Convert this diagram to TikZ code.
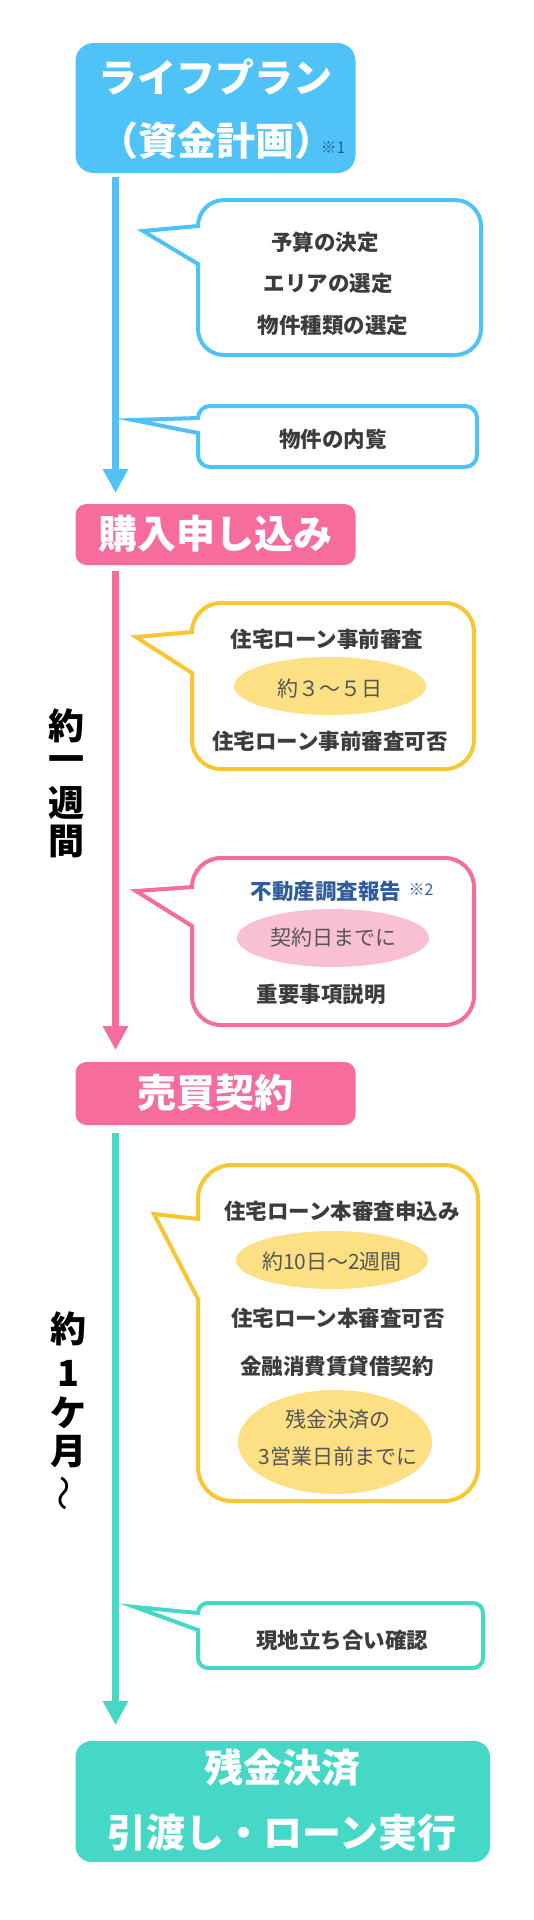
\documentclass[tikz,border=0pt]{standalone}
\usepackage{fontspec}
\setmainfont{Noto Sans CJK JP}
\usetikzlibrary{arrows.meta,calc}
\definecolor{cblue}{HTML}{4FC3F7}
\definecolor{cpink}{HTML}{F56C9D}
\definecolor{cteal}{HTML}{46D8C6}
\definecolor{cyellow}{HTML}{F8C630}
\definecolor{eyellow}{HTML}{FDE084}
\definecolor{epink}{HTML}{F9BFD5}
\definecolor{ctext}{HTML}{3C3C3C}
\definecolor{etext}{HTML}{555555}
\definecolor{navy}{HTML}{2E5C9C}
\colorlet{bcol}{cblue}
% #1 L, #2 R, #3 top, #4 bottom, #5 radius, #6 tip x, #7 tip y, #8 upper join y, #9 lower join y
\newcommand\bubble[9]{\draw[bubble] (#6,#7) -- (#1,#8) -- (#1,{#3+#5})
  arc[start angle=180,end angle=270,radius=#5] -- ({#2-#5},#3)
  arc[start angle=270,end angle=360,radius=#5] -- (#2,{#4-#5})
  arc[start angle=0,end angle=90,radius=#5] -- ({#1+#5},#4)
  arc[start angle=90,end angle=180,radius=#5] -- (#1,#9) -- cycle;}
\begin{document}
\begin{tikzpicture}[x=1pt,y=-1pt,
  mainbox/.style={inner sep=0, outer sep=0, minimum width=280pt},
  boxtxt/.style={text=white, font=\bfseries\fontsize{39}{39}\selectfont, inner sep=0},
  btxt/.style={text=ctext, font=\bfseries\fontsize{21.5}{21.5}\selectfont, inner sep=0},
  etxt/.style={text=etext, font=\fontsize{21}{21}\selectfont, inner sep=0},
  vtxt/.style={text=black, font=\bfseries\fontsize{36}{36}\selectfont, inner sep=0},
  notetxt/.style={text=navy, font=\fontsize{16}{16}\selectfont, inner sep=0},
  bubble/.style={draw=bcol, line width=4pt, fill=white, line join=miter},
  flow/.style={line width=7.5pt, -{Triangle[width=24pt,length=24pt]}}]
\useasboundingbox[fill=white] (0,0) rectangle (533,1920);

% main boxes
\node[mainbox, fill=cblue, rounded corners=18pt, minimum height=130pt] (plan) at (215.5,108) {};
\node[mainbox, fill=cpink, rounded corners=11pt, minimum height=61pt] (apply) at (215.5,534.5) {};
\node[mainbox, fill=cpink, rounded corners=11pt, minimum height=63pt] (contract) at (215.5,1093.5) {};
\node[mainbox, fill=cteal, rounded corners=16pt, minimum width=414.5pt, minimum height=121pt] (settle) at (282.75,1801.5) {};

\node[boxtxt] (planA) at (215,77) {ライフプラン};
\node[boxtxt] (planB) at (216,141) {（資金計画）};
\node[notetxt] (n1) at (333,148) {※1};
\node[boxtxt] (applyT) at (215,534) {購入申し込み};
\node[boxtxt] (contractT) at (215,1093) {売買契約};
\node[boxtxt] (settleA) at (282,1768) {残金決済};
\node[boxtxt] (settleB) at (282,1833) {引渡し・ローン実行};

% flow arrows
\draw[flow, cblue] ($(plan.south west)+(40,4)$) -- ($(apply.north west)+(40,-11)$);
\draw[flow, cpink] ($(apply.south west)+(40,6)$) -- ($(contract.north west)+(40,-12)$);
\draw[flow, cteal] ($(contract.south west)+(40,8)$) -- ($(settle.north west)+(40,-16)$);

% bubbles
\colorlet{bcol}{cblue}
\bubble{198}{481}{200}{355}{26}{143}{231}{226}{264}
\bubble{198}{477}{406}{467}{12}{133}{420}{418}{433}
\colorlet{bcol}{cyellow}
\bubble{192}{474}{603}{769}{29}{136}{637}{632}{673}
\colorlet{bcol}{cpink}
\bubble{192}{474}{858}{1025}{29}{136}{891}{887}{926}
\colorlet{bcol}{cyellow}
\bubble{198}{478}{1165}{1501}{34}{154}{1214}{1219}{1299}
\colorlet{bcol}{cteal}
\bubble{198}{483}{1603}{1668}{10}{135}{1607}{1613}{1630}

% ellipses
\fill[eyellow] (330,686) ellipse[x radius=96, y radius=29];
\fill[epink] (333,938) ellipse[x radius=96, y radius=29];
\fill[eyellow] (332,1260) ellipse[x radius=96, y radius=29];
\fill[eyellow] (335,1442) ellipse[x radius=97, y radius=52];

% bubble texts
\node[btxt] (b1a) at (325,242) {予算の決定};
\node[btxt] (b1b) at (328,283) {エリアの選定};
\node[btxt] (b1c) at (333,325) {物件種類の選定};
\node[btxt] (b2) at (333,439) {物件の内覧};
\node[btxt] (b3a) at (327,639) {住宅ローン事前審査};
\node[etxt] (b3b) at (330,689) {約３～５日};
\node[btxt] (b3c) at (330,741) {住宅ローン事前審査可否};
\node[btxt, text=navy] (b4a) at (326,891) {不動産調査報告};
\node[notetxt] (n2) at (421,890) {※2};
\node[etxt] (b4b) at (333,938) {契約日までに};
\node[btxt] (b4c) at (321,994) {重要事項説明};
\node[btxt] (b5a) at (342,1211) {住宅ローン本審査申込み};
\node[etxt] (b5b) at (332,1262) {約10日～2週間};
\node[btxt] (b5c) at (338,1318) {住宅ローン本審査可否};
\node[btxt] (b5d) at (337,1366) {金融消費賃貸借契約};
\node[etxt] (b5e) at (338,1419) {残金決済の};
\node[etxt] (b5f) at (338,1456) {3営業日前までに};
\node[btxt] (b6) at (342,1640) {現地立ち合い確認};

% vertical period labels
\node[vtxt] (v1) at (66,726) {約};
\node[vtxt] (v2) at (66,764) {一};
\node[vtxt] (v3) at (66,803) {週};
\node[vtxt] (v4) at (66,841) {間};
\node[vtxt] (w1) at (68,1329) {約};
\node[vtxt] (w2) at (68,1373) {1};
\node[vtxt] (w3) at (68,1413) {ケ};
\node[vtxt] (w4) at (68,1452) {月};
\node[vtxt, font=\fontsize{36}{36}\selectfont] (w5) at (68,1493) {\rotatebox{90}{～}};
\end{tikzpicture}
\end{document}
